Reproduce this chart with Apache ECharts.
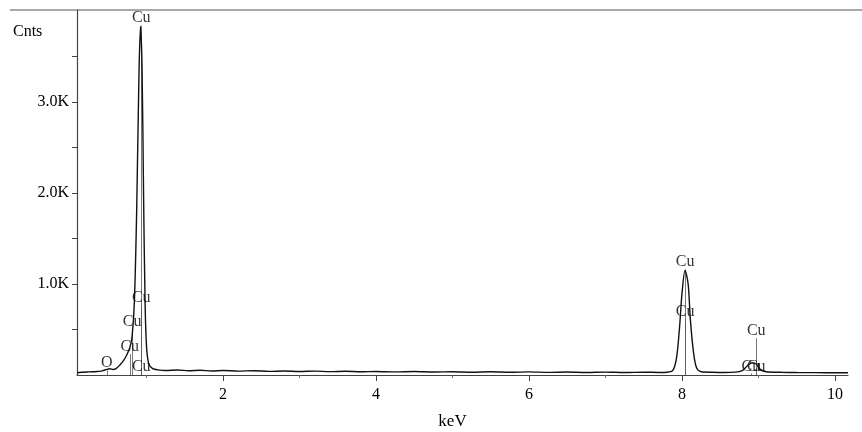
<!DOCTYPE html>
<html lang="en">
<head>
  <meta charset="UTF-8">
  <title>EDS spectrum</title>
  <style>
    body{
      margin: 0;
    }
    .chart{
      width: 862px;
      height: 432px;
      background: white;
    }
  </style>
</head>
<body>
<div class="chart"></div>
<script src="https://cdn.jsdelivr.net/npm/echarts@6/dist/echarts.min.js"></script>
<script>
  // spectrum: energy (keV) and counts
  const energy = [
    0.09, 0.15, 0.25, 0.35, 0.42, 0.48, 0.52, 0.56, 0.60, 0.65, 0.70, 0.74, 0.78, 0.81,
    0.84, 0.87, 0.90, 0.92, 0.94, 0.96, 0.98, 1.00, 1.03, 1.08, 1.15, 1.25, 1.40, 1.55,
    1.70, 1.85, 2.00, 2.20, 2.40, 2.60, 2.80, 3.00, 3.20, 3.40, 3.60, 3.80, 4.00, 4.25,
    4.50, 4.75, 5.00, 5.25, 5.50, 5.75, 6.00, 6.25, 6.50, 6.75, 7.00, 7.25, 7.50, 7.70,
    7.80, 7.88, 7.93, 7.97, 8.00, 8.04, 8.08, 8.11, 8.15, 8.19, 8.25, 8.40, 8.55, 8.70,
    8.78, 8.83, 8.87, 8.92, 8.97, 9.02, 9.10, 9.30, 9.50, 9.75, 10.00, 10.17
  ];
  const counts = [
    25, 30, 34, 38, 46, 62, 68, 60, 70, 110, 160, 220, 300, 420,
    800, 1800, 3300, 3830, 3400, 2000, 800, 300, 120, 70, 56, 50, 55, 47,
    52, 44, 49, 43, 47, 40, 44, 38, 43, 37, 41, 35, 39, 34,
    38, 33, 36, 31, 35, 30, 34, 29, 33, 28, 32, 27, 31, 28,
    30, 50, 200, 550, 900, 1150, 1000, 600, 250, 80, 35, 30, 28, 32,
    45, 80, 115, 135, 120, 65, 36, 30, 27, 26, 25, 25
  ];

  // element markers: label, energy position, height of the label
  const markerNames = ['Cu', 'Cu', 'Cu', 'Cu', 'Cu', 'O', 'Cu', 'Cu', 'Cu', 'Cu', 'Cu'];
  const markerKeV = [0.93, 0.93, 0.81, 0.78, 0.93, 0.48, 8.04, 8.04, 8.97, 8.90, 8.97];
  const markerCounts = [3920, 845, 580, 308, 95, 130, 1240, 690, 484, 95, 95];

  const yTickValues = [500, 1000, 1500, 2000, 2500, 3000, 3500];
  const yLabelValues = [1000, 2000, 3000];
  const xMajorTicks = [2, 4, 6, 8, 10];
  const xMinorTicks = [1, 3, 5, 7, 9];

  const font = 'Liberation Serif';
  const ink = '#000';

  const spectrum = energy.map((e, i) => [e, counts[i]]);
  const markerPoints = markerKeV.map((e, i) => [e, markerCounts[i], markerNames[i]]);
  const markerLines = markerKeV.map((e, i) => ({
    coords: [[e, 0], [e, markerCounts[i] - 80]]
  }));

  const instance = echarts.init(document.querySelector('.chart'));
  const option = {
    animation: false,
    title: {
      text: 'Cnts',
      left: 8,
      top: 19,
      textStyle: {fontFamily: font, fontSize: 16, fontWeight: 'normal', color: ink}
    },
    grid: {left: 77, right: 14, top: 10, bottom: 57, containLabel: false, outerBoundsMode: 'none'},
    graphic: [{
      type: 'line',
      shape: {x1: 10, y1: 10, x2: 862, y2: 10},
      style: {stroke: '#555', lineWidth: 1.2}
    }],
    xAxis: [{
      type: 'value',
      min: 0.09,
      max: 10.17,
      name: 'keV',
      nameLocation: 'middle',
      nameGap: 38,
      nameTextStyle: {fontFamily: font, fontSize: 17, color: ink, padding: [0, 20, 0, 0]},
      splitLine: {show: false},
      axisLine: {lineStyle: {color: '#444', width: 1.2}},
      axisTick: {show: true, customValues: xMajorTicks, length: 6, lineStyle: {color: '#444'}},
      axisLabel: {customValues: xMajorTicks, fontFamily: font, fontSize: 16, color: ink, margin: 12}
    }, {
      type: 'value',
      min: 0.09,
      max: 10.17,
      position: 'bottom',
      splitLine: {show: false},
      axisLine: {show: false},
      axisTick: {show: true, customValues: xMinorTicks, length: 3, lineStyle: {color: '#666'}},
      axisLabel: {show: false}
    }],
    yAxis: {
      type: 'value',
      min: 0,
      max: 4011,
      splitLine: {show: false},
      axisLine: {show: true, lineStyle: {color: '#444', width: 1.2}},
      axisTick: {show: true, customValues: yTickValues, length: 5, lineStyle: {color: '#444'}},
      axisLabel: {
        customValues: yLabelValues,
        fontFamily: font,
        fontSize: 16,
        color: ink,
        margin: 8,
        formatter: (v) => (v / 1000).toFixed(1) + 'K'
      }
    },
    series: [
      {
        type: 'line',
        data: spectrum,
        symbol: 'none',
        smooth: 0.3,
        lineStyle: {color: '#111', width: 1.4}
      },
      {
        type: 'lines',
        coordinateSystem: 'cartesian2d',
        data: markerLines,
        lineStyle: {color: '#555', width: 0.8, opacity: 1}
      },
      {
        type: 'scatter',
        data: markerPoints,
        symbolSize: 1,
        itemStyle: {color: 'rgba(0,0,0,0)'},
        label: {
          show: true,
          position: 'inside',
          formatter: (p) => p.data[2],
          fontFamily: font,
          fontSize: 16,
          color: ink
        }
      }
    ]
  };
  instance.setOption(option);
</script>
</body>
</html>
